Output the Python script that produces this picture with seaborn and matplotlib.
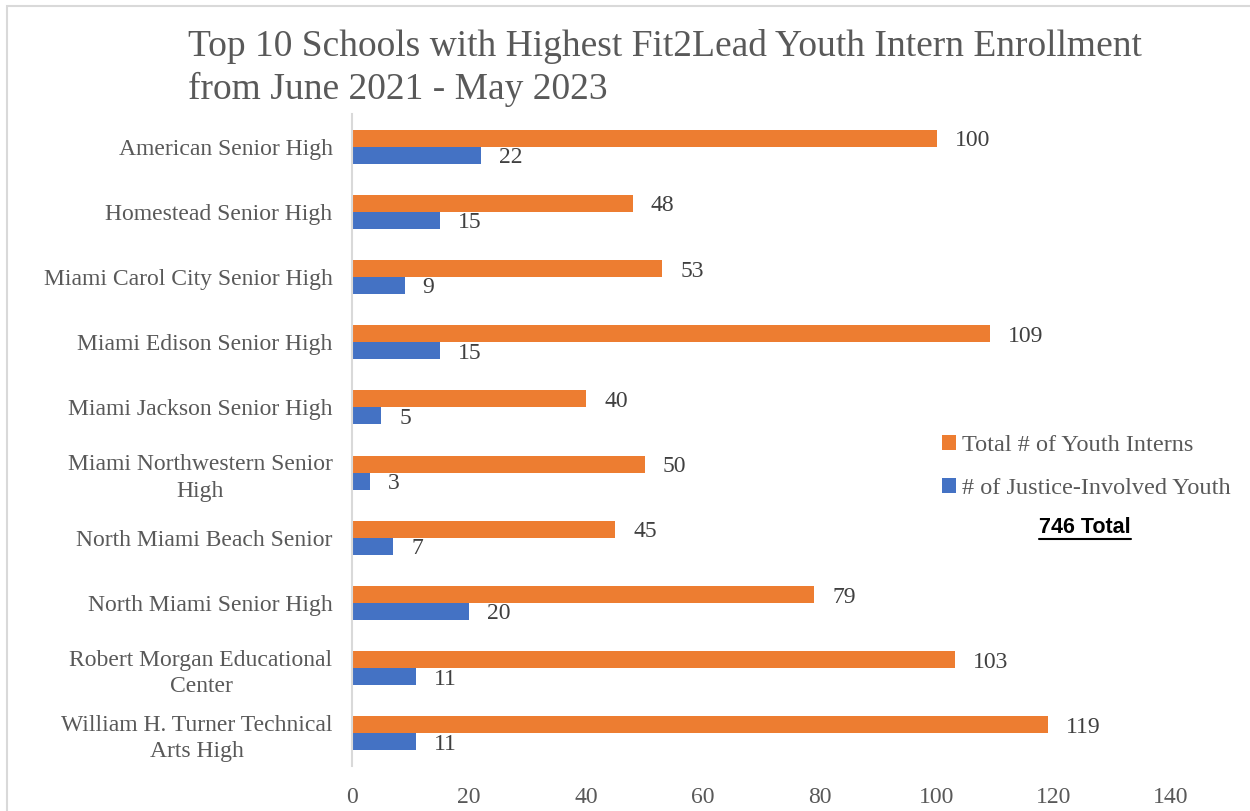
import matplotlib
matplotlib.use("Agg")
import pandas as pd
import seaborn as sns
from matplotlib import pyplot as plt
from matplotlib.patches import Rectangle

schools = ['American Senior High', 'Homestead Senior High', 'Miami Carol City Senior High',
           'Miami Edison Senior High', 'Miami Jackson Senior High',
           'Miami Northwestern Senior\nHigh', 'North Miami Beach Senior',
           'North Miami Senior High', 'Robert Morgan Educational\nCenter',
           'William H. Turner Technical\nArts High']
total_interns = [100, 48, 53, 109, 40, 50, 45, 79, 103, 119]
justice_youth = [22, 15, 9, 15, 5, 3, 7, 20, 11, 11]
series = ['Total # of Youth Interns', '# of Justice-Involved Youth']
colors = ['#ED7D31', '#4472C4']
xticks = [0, 20, 40, 60, 80, 100, 120, 140]

df = pd.DataFrame({'school': schools, series[0]: total_interns, series[1]: justice_youth})
df = df.melt('school', var_name='series', value_name='value')

sns.set_style("white")
plt.rcParams['font.family'] = ['Liberation Serif', 'DejaVu Serif']

fig = plt.figure(figsize=(12.5, 8.11), dpi=100)
ax = fig.add_axes([0.2816, 0.0555, 0.9368 - 0.2816, 0.8594 - 0.0555])

sns.barplot(data=df, y='school', x='value', hue='series', hue_order=series,
            palette=colors, orient='h', width=0.52, gap=0, saturation=1,
            edgecolor='none', ax=ax)

for cont in ax.containers:
    lbls = ax.bar_label(cont, padding=13, fontsize=17, color='#404040')
    for t in lbls:
        t.set_va('center_baseline')

ax.set_xlim(0, 140)
ax.set_ylim(9.5, -0.5)
ax.set_xticks(xticks)
ax.set_xlabel('')
ax.set_ylabel('')
ax.tick_params(axis='both', length=0, labelsize=17, labelcolor='#595959')
ax.tick_params(axis='y', pad=14)
ax.tick_params(axis='x', pad=15)
for lab in ax.get_yticklabels():
    lab.set_multialignment('center')
    lab.set_linespacing(1.35)
for s in ['top', 'right', 'bottom']:
    ax.spines[s].set_visible(False)
ax.spines['left'].set_color('#d9d9d9')
ax.spines['left'].set_linewidth(1.5)

leg = ax.legend(loc='upper left', bbox_to_anchor=(0.694, 0.541), frameon=False,
                fontsize=17.5, handlelength=0.55, handleheight=0.55, handletextpad=0.25,
                labelspacing=0.9, labelcolor='#595959')

fig.text(0.868, 0.35, '746 Total', fontsize=15.5, fontweight='bold', ha='center',
         va='center', family=['Liberation Sans', 'DejaVu Sans'], color='black')
fig.add_artist(plt.Line2D([0.831, 0.905], [0.336, 0.336], color='black', lw=1.5))

fig.text(0.15, 0.916, 'Top 10 Schools with Highest Fit2Lead Youth Intern Enrollment\nfrom June 2021 - May 2023',
         fontsize=27, color='#595959', ha='left', va='center', linespacing=1.28)

fig.add_artist(Rectangle((7 / 1250, -0.1), 1.2, 1 - 6 / 811 + 0.1, transform=fig.transFigure,
                         fill=False, edgecolor='#d9d9d9', lw=1.5))

plt.savefig('out.png', dpi=100)
